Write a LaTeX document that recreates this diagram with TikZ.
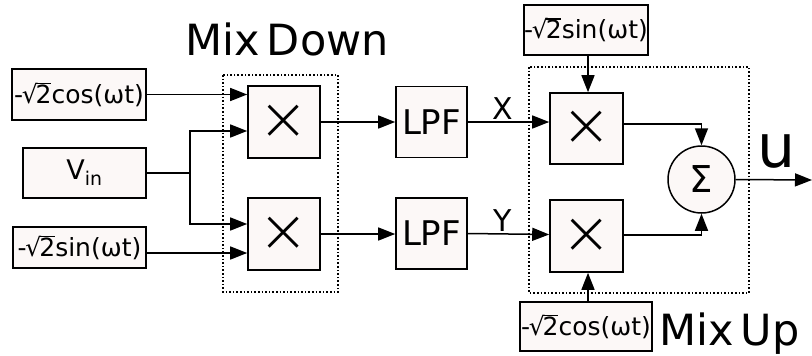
\documentclass[tikz,border=0pt]{standalone}
\usepackage{fontspec}
\setmainfont{DejaVu Sans}
\newfontfamily\thinfont{DejaVu Sans ExtraLight}
\usetikzlibrary{arrows.meta,calc}
\definecolor{boxfill}{RGB}{252,248,247}
\newcommand\rtwo{-\kern-.05em√\kern-.08em\rlap{\rule[.755em]{.62em}{.06em}}2}
\tikzset{
  blk/.style={draw, line width=1.6pt, fill=boxfill, inner sep=0pt, font=\fontsize{25}{27}\selectfont},
  mult/.style={blk, minimum width=72pt, minimum height=72pt, font=\thinfont\fontsize{60}{62}\selectfont},
  lpfbox/.style={blk, minimum width=71pt, minimum height=71pt, font=\fontsize{34}{36}\selectfont},
  wire/.style={line width=1.5pt},
  arr/.style={wire, -{Triangle[length=17pt,width=13pt]}},
  grp/.style={dotted, line width=1.6pt},
  big/.style={font=\fontsize{43}{46}\selectfont, inner sep=0pt}
}
\begin{document}
\begin{tikzpicture}[x=1pt,y=-1pt]
\useasboundingbox (0,0) rectangle (812,356);
% group boxes
\draw[grp] (223,75) rectangle (338,292);
\draw[grp] (529,67) rectangle (749,293);
% sources
\node[blk, minimum width=134pt, minimum height=51pt] (cosL) at (79,94.5) {\rtwo cos(ωt)};
\node[blk, minimum width=123pt, minimum height=50pt, font=\fontsize{27}{29}\selectfont] (vin) at (84.5,173) {V\textsubscript{in}};
\node[blk, minimum width=133pt, minimum height=41pt] (sinL) at (79.5,247.5) {\rtwo sin(ωt)};
% mix down multipliers
\node[mult] (m1) at (284,122) {×};
\node[mult] (m2) at (284,234) {×};
% filters
\node[lpfbox] (lpf1) at (431.5,122) {LPF};
\node[lpfbox] (lpf2) at (431.5,233.5) {LPF};
% mix up
\node[blk, minimum width=124pt, minimum height=50pt] (sinT) at (586,30) {\rtwo sin(ωt)};
\node[blk, minimum width=132pt, minimum height=49pt] (cosB) at (586,326.5) {\rtwo cos(ωt)};
\node[mult, minimum width=73pt, minimum height=71pt] (m3) at (586.5,128.5) {×};
\node[mult, minimum width=73pt, minimum height=72pt] (m4) at (586.5,236) {×};
\node[draw, circle, line width=1.5pt, fill=boxfill, minimum size=67pt, inner sep=0pt, font=\fontsize{37}{39}\selectfont] (sum) at (701.5,179.5) {Σ};
% labels
\node[big, anchor=base] (mixdown) at (287,55) {Mix\,Down};
\node[big, anchor=base west] (mixup) at (659,345) {Mix\,Up};
\node[font=\fontsize{30}{32}\selectfont, inner sep=0pt, anchor=base] (xl) at (503,119) {X};
\node[font=\fontsize{30}{32}\selectfont, inner sep=0pt, anchor=base] (yl) at (503,231) {Y};
\node[font=\fontsize{60}{62}\selectfont, inner sep=0pt, anchor=base] (ul) at (777,167) {u};
% junction
\coordinate (j) at (190,173);
\coordinate (out) at (812,180);
% connectors
\draw[arr] (cosL.east) -- (cosL.east -| m1.west);
\draw[wire] (vin.east) -- (j);
\draw[arr] (j) |- ($(m1.west)+(0,9)$);
\draw[arr] (j) |- ($(m2.west)+(0,-10)$);
\draw[arr] ($(sinL.east)+(0,5.5)$) -- ($(m2.west)+(0,19)$);
\draw[arr] (m1.east) -- (m1.east -| lpf1.west);
\draw[arr] (m2.east) -- (m2.east -| lpf2.west);
\draw[arr] (lpf1.east) -- (lpf1.east -| m3.west);
\draw[arr] (lpf2.east) -- ($(m4.west)+(0,-1.5)$);
\draw[arr] ($(sinT.south)+(2,0)$) -- ($(m3.north)+(1.5,0)$);
\draw[arr] ($(cosB.north)+(2,0)$) -- ($(m4.south)+(1.5,0)$);
\draw[arr] ($(m3.east)+(0,-4.5)$) -| (sum.north);
\draw[arr] ($(m4.east)+(0,-1)$) -| (sum.south);
\draw[arr] (sum.east) -- (out);
\end{tikzpicture}
\end{document}
